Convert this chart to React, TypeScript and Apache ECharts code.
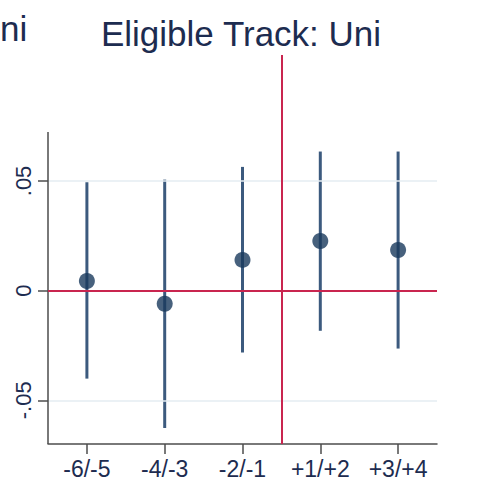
import React, { useEffect, useRef } from "react";
import * as echarts from "echarts";

// Event-time bins
const categories = ["-6/-5", "-4/-3", "-2/-1", "+1/+2", "+3/+4"];
// Point estimates and 95% confidence bounds
const estimates = [0.0044, -0.006, 0.014, 0.0226, 0.0185];
const ciLower = [-0.0401, -0.0626, -0.0282, -0.0183, -0.0264];
const ciUpper = [0.0494, 0.0506, 0.0564, 0.0634, 0.0634];

// Y-axis ticks and their printed labels
const yTickValues = [-0.05, 0, 0.05];
const yTickLabels = ["-.05", "0", ".05"];

// Scale extents
const yMin = -0.0699;
const yMax = 0.1074;
const yAxisTop = 0.0723;
const xMin = 0.5;
const xMax = 5.5;
const eventLine = 3.5;

const FONT = "'Liberation Sans', Arial, Helvetica, sans-serif";
const TEXT = "#1d2c50";
const RED = "#c9254f";
const AXIS = "#4d4d4d";

export default function App() {
  const ref = useRef<HTMLDivElement>(null);

  useEffect(() => {
    if (!ref.current) return;
    const chart = echarts.init(ref.current, null, { renderer: "svg" });
    const xTickValues = categories.map((_, i) => i + 1);

    chart.setOption({
      animation: false,
      backgroundColor: "#ffffff",
      title: {
        text: "Eligible Track: Uni",
        left: "center",
        top: 11,
        textStyle: { fontFamily: FONT, fontSize: 35, fontWeight: "normal", color: TEXT },
      },
      graphic: [
        {
          // tail of the neighbouring panel's heading
          type: "text",
          left: 0,
          top: 11,
          style: { text: "ni", font: `35px ${FONT}`, fill: TEXT },
        },
      ],
      grid: { left: 48, right: 45, top: 55, bottom: 41, containLabel: false },
      xAxis: {
        type: "value",
        min: xMin,
        max: xMax,
        axisLine: { show: true, onZero: false, lineStyle: { color: AXIS, width: 1.5 } },
        axisTick: {
          show: true,
          customValues: xTickValues,
          length: 10,
          lineStyle: { color: AXIS, width: 1.5 },
        },
        axisLabel: {
          customValues: xTickValues,
          formatter: (v: number) => categories[Math.round(v) - 1] ?? "",
          fontFamily: FONT,
          fontSize: 23,
          color: TEXT,
          margin: 13,
        },
        splitLine: { show: false },
      },
      yAxis: {
        type: "value",
        min: yMin,
        max: yMax,
        axisLine: { show: false, onZero: false },
        axisTick: {
          show: true,
          customValues: yTickValues,
          length: 10,
          lineStyle: { color: AXIS, width: 1.5 },
        },
        axisLabel: {
          customValues: yTickValues,
          formatter: (v: number) => {
            const i = yTickValues.findIndex((t) => Math.abs(t - v) < 1e-9);
            return i >= 0 ? yTickLabels[i] : "";
          },
          rotate: 90,
          fontFamily: FONT,
          fontSize: 22,
          color: TEXT,
          margin: 14,
        },
        splitLine: { show: false },
      },
      series: [
        {
          // light grid lines and the y-axis spine
          type: "line",
          data: [],
          z: 1,
          markLine: {
            silent: true,
            symbol: "none",
            label: { show: false },
            lineStyle: { color: "#e4ecf2", width: 1.5, type: "solid" },
            data: [
              ...yTickValues.filter((v) => v !== 0).map((v) => ({ yAxis: v })),
              [
                { coord: [xMin, yMin], lineStyle: { color: AXIS, width: 1.5 } },
                { coord: [xMin, yAxisTop] },
              ],
            ],
          },
        },
        {
          // reference lines: zero effect and treatment timing
          type: "line",
          data: [],
          z: 2,
          markLine: {
            silent: true,
            symbol: "none",
            label: { show: false },
            lineStyle: { color: RED, width: 2, type: "solid" },
            data: [{ yAxis: 0 }, { xAxis: eventLine }],
          },
        },
        {
          type: "custom",
          z: 3,
          data: categories.map((_, i) => [i + 1, ciLower[i], ciUpper[i]]),
          encode: { x: 0, y: [1, 2] },
          renderItem: (_params: any, api: any) => {
            const x = api.value(0);
            const lo = api.coord([x, api.value(1)]);
            const hi = api.coord([x, api.value(2)]);
            return {
              type: "line",
              shape: { x1: lo[0], y1: lo[1], x2: hi[0], y2: hi[1] },
              style: { stroke: "#3c5a7e", lineWidth: 3 },
            };
          },
        },
        {
          type: "scatter",
          z: 4,
          symbol: "circle",
          symbolSize: 16,
          itemStyle: { color: "#19395c" },
          data: categories.map((_, i) => [i + 1, estimates[i]]),
        },
      ],
    });

    return () => chart.dispose();
  }, []);

  return (
    <div
      ref={ref}
      style={{ position: "fixed", left: 0, top: 0, width: 482, height: 485, background: "#fff" }}
    />
  );
}
